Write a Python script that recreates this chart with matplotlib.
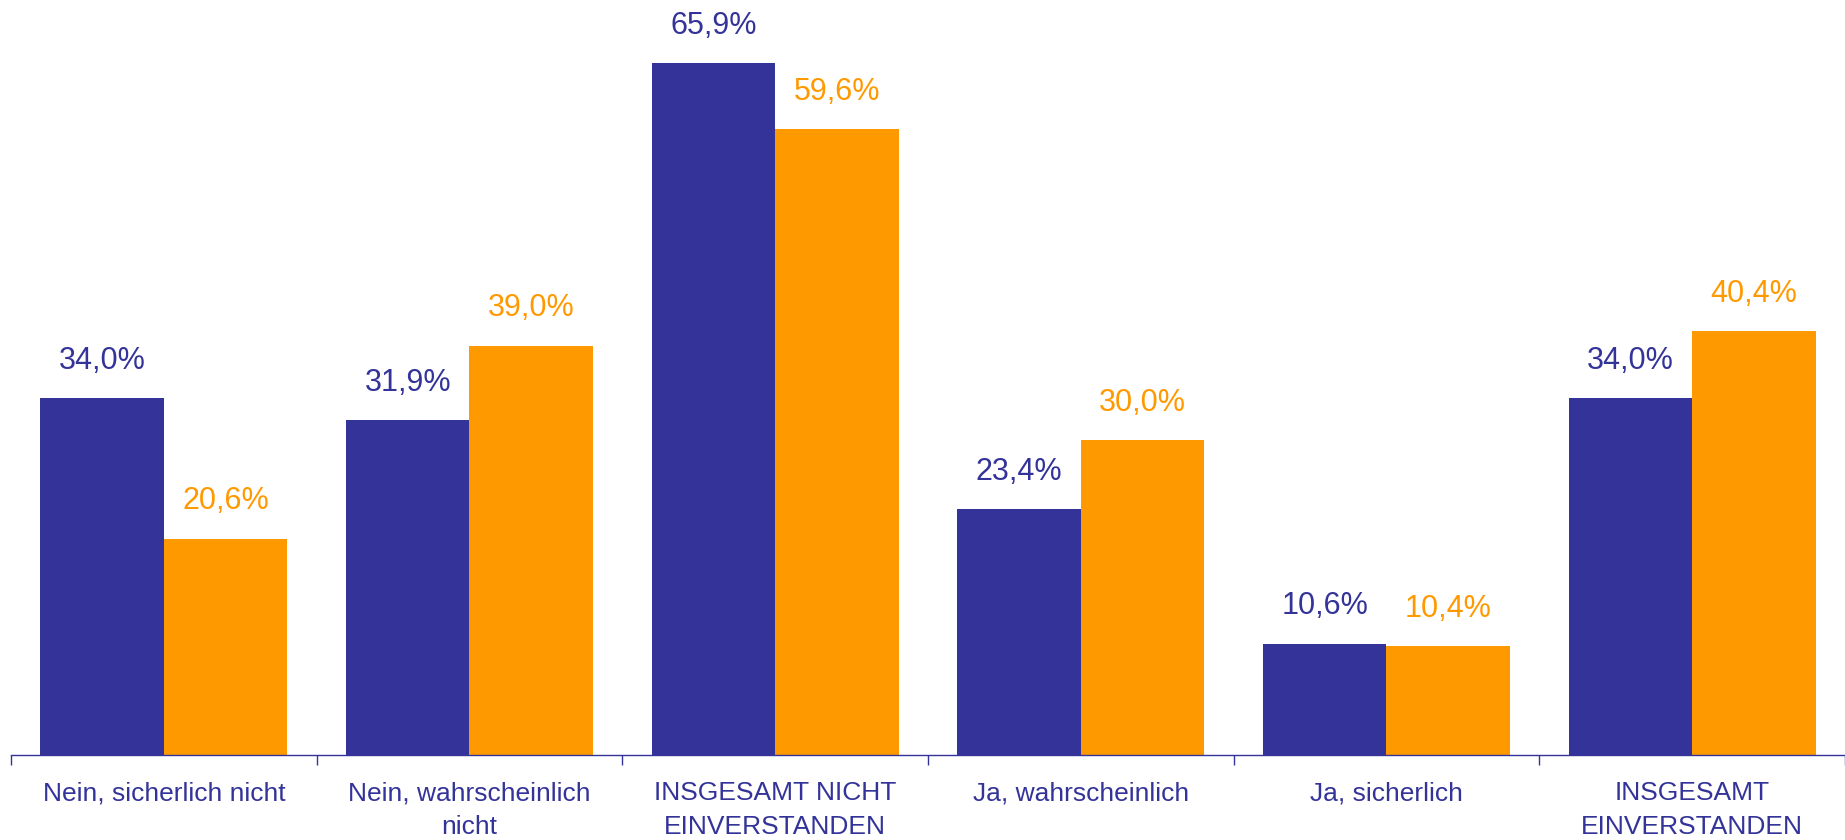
import matplotlib.pyplot as plt
import numpy as np

plt.rcParams['font.family'] = ['Liberation Sans', 'DejaVu Sans']

categories = ['Nein, sicherlich nicht', 'Nein, wahrscheinlich\nnicht',
              'INSGESAMT NICHT\nEINVERSTANDEN', 'Ja, wahrscheinlich',
              'Ja, sicherlich', 'INSGESAMT\nEINVERSTANDEN']
blue_vals = [34.0, 31.9, 65.9, 23.4, 10.6, 34.0]
orange_vals = [20.6, 39.0, 59.6, 30.0, 10.4, 40.4]

BLUE = '#333399'
ORANGE = '#FF9900'

fig = plt.figure(figsize=(18.45, 8.4), dpi=100)
ax = fig.add_axes([11 / 1845, 1 - 755 / 840, 1 - 11 / 1845, 70 * 10.5 / 840])

x = np.arange(len(categories))
w = 0.404
b1 = ax.bar(x - w / 2, blue_vals, w, color=BLUE)
b2 = ax.bar(x + w / 2, orange_vals, w, color=ORANGE)

for bars, vals, col in [(b1, blue_vals, BLUE), (b2, orange_vals, ORANGE)]:
    for r, v in zip(bars, vals):
        ax.annotate(f'{v:.1f}%'.replace('.', ','),
                    (r.get_x() + r.get_width() / 2, r.get_height()),
                    xytext=(0, 16), textcoords='offset points',
                    ha='center', va='bottom', fontsize=22, color=col)

ax.set_xlim(-0.5, len(categories) - 0.5)
ax.set_ylim(0, 70)

for s in ['top', 'right', 'left']:
    ax.spines[s].set_visible(False)
ax.spines['bottom'].set_color(BLUE)
ax.spines['bottom'].set_linewidth(1)

ax.set_yticks([])
ax.set_xticks(x)
ax.set_xticklabels(categories, fontsize=19, color=BLUE, linespacing=1.5)
ax.tick_params(axis='x', which='major', length=0, pad=19)
ax.set_xticks(np.arange(len(categories) + 1) - 0.5, minor=True)
ax.tick_params(axis='x', which='minor', length=7, color=BLUE, width=1)

fig.savefig('out.png', dpi=100)
